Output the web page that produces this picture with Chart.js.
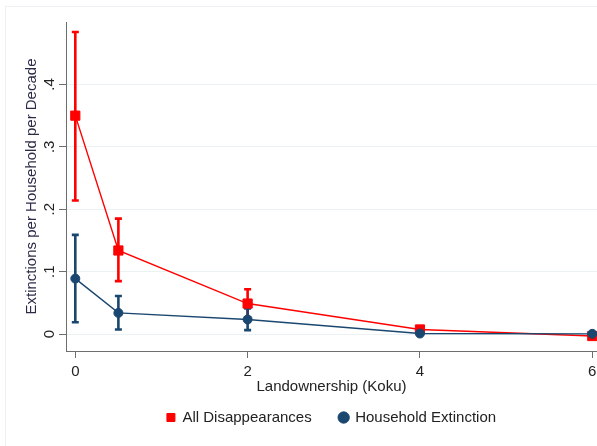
<!DOCTYPE html>
<html>
<head>
<meta charset="utf-8">
<script src="https://cdn.jsdelivr.net/npm/chart.js@4"></script>
<style>
  html, body { margin: 0; padding: 0; background: #fff; }
  #wrap { width: 597px; height: 446px; }
</style>
</head>
<body>
<div id="wrap"><canvas id="koku" width="597" height="446"></canvas></div>
<script>
// landownership in koku
const landKoku = [0, 0.5, 2, 4, 6];

// all disappearances, with CI
const allDisp = [0.350, 0.134, 0.049, 0.0075, -0.003];
const allDispLo = [0.214, 0.085, 0.027, 0.003, -0.007];
const allDispHi = [0.484, 0.185, 0.072, 0.012, 0.001];

// household extinction, with CI
const hhExt = [0.089, 0.034, 0.0235, 0.001, 0.0005];
const hhExtLo = [0.019, 0.0075, 0.0065, -0.001, -0.002];
const hhExtHi = [0.159, 0.061, 0.041, 0.003, 0.003];

const xTicks = [0, 2, 4, 6];
const yTicks = [0, 0.1, 0.2, 0.3, 0.4];

const RED = '#ff0000';
const NAVY = '#1a476f';
const AXIS = '#6e6e6e';
const FONT = 'Liberation Sans, Arial';

const toPts = (ys) => landKoku.map((x, i) => ({ x: x, y: ys[i] }));

// draws the CI whiskers under the markers
const errorBars = {
  id: 'errorBars',
  beforeDatasetsDraw(chart) {
    const { ctx, chartArea, scales: { x, y } } = chart;
    const sets = [
      { lo: allDispLo, hi: allDispHi, color: RED },
      { lo: hhExtLo, hi: hhExtHi, color: NAVY }
    ];
    ctx.save();
    ctx.beginPath();
    ctx.rect(chartArea.left, chartArea.top, chartArea.right - chartArea.left, chartArea.bottom - chartArea.top);
    ctx.clip();
    sets.forEach(s => {
      ctx.strokeStyle = s.color;
      ctx.lineWidth = 2.6;
      landKoku.forEach((v, i) => {
        const px = x.getPixelForValue(v);
        const top = y.getPixelForValue(s.hi[i]);
        const bot = y.getPixelForValue(s.lo[i]);
        ctx.beginPath();
        ctx.moveTo(px, top);
        ctx.lineTo(px, bot);
        ctx.moveTo(px - 3.5, top);
        ctx.lineTo(px + 3.5, top);
        ctx.moveTo(px - 3.5, bot);
        ctx.lineTo(px + 3.5, bot);
        ctx.stroke();
      });
    });
    ctx.restore();
  }
};

// faint outer frame, like the graph region border
const frame = {
  id: 'frame',
  beforeDraw(chart) {
    const ctx = chart.ctx;
    ctx.save();
    ctx.strokeStyle = '#eef1f3';
    ctx.lineWidth = 1;
    ctx.strokeRect(5.5, 6.5, 620, 500);
    ctx.restore();
  }
};

new Chart(document.getElementById('koku'), {
  type: 'scatter',
  data: {
    datasets: [
      {
        label: 'All Disappearances',
        data: toPts(allDisp),
        showLine: true,
        borderColor: RED,
        backgroundColor: RED,
        borderWidth: 1.4,
        pointStyle: 'rect',
        pointRadius: 6.5,
        pointBorderWidth: 1,
        pointBackgroundColor: RED,
        pointBorderColor: RED,
        order: 2
      },
      {
        label: 'Household Extinction',
        data: toPts(hhExt),
        showLine: true,
        borderColor: NAVY,
        backgroundColor: NAVY,
        borderWidth: 1.4,
        pointStyle: 'circle',
        pointRadius: 4.5,
        pointBorderWidth: 1,
        pointBackgroundColor: NAVY,
        pointBorderColor: NAVY,
        order: 1
      }
    ]
  },
  options: {
    responsive: false,
    animation: false,
    layout: { autoPadding: false, padding: { top: 22, left: 0, right: 0, bottom: 11 } },
    plugins: {
      tooltip: { enabled: false },
      legend: {
        position: 'bottom',
        fullSize: false,
        labels: {
          usePointStyle: true,
          boxWidth: 8,
          boxHeight: 8,
          padding: 28,
          color: '#222',
          sort: (a, b) => a.datasetIndex - b.datasetIndex,
          font: { family: FONT, size: 15 }
        }
      }
    },
    scales: {
      x: {
        type: 'linear',
        min: -0.108,
        max: 6.055,
        afterBuildTicks: (s) => { s.ticks = xTicks.map(v => ({ value: v })); },
        afterFit: (s) => { s.height = 31; },
        grid: { drawOnChartArea: false, tickLength: 7, tickColor: AXIS },
        border: { color: AXIS, width: 1 },
        ticks: {
          color: '#222',
          padding: 0,
          maxRotation: 0,
          font: { family: FONT, size: 15, lineHeight: 1.85 }
        },
        title: {
          display: true,
          text: 'Landownership (Koku)',
          color: '#222',
          padding: { top: 0, bottom: -14.2 },
          font: { family: FONT, size: 15 }
        }
      },
      y: {
        type: 'linear',
        min: -0.027,
        max: 0.5,
        afterBuildTicks: (s) => { s.ticks = yTicks.map(v => ({ value: v })); },
        afterFit: (s) => { s.width = 66; },
        grid: { color: '#eaf2f3', lineWidth: 1, tickLength: 7, tickColor: AXIS },
        border: { color: AXIS, width: 1 },
        ticks: {
          color: '#222',
          padding: 3,
          minRotation: 90,
          maxRotation: 90,
          crossAlign: 'center',
          font: { family: FONT, size: 15 },
          callback: (v) => v === 0 ? '0' : String(Math.round(v * 10) / 10).replace(/^0/, '')
        },
        title: {
          display: true,
          text: 'Extinctions per Household per Decade',
          color: '#2b2b48',
          padding: { top: 23, bottom: 0 },
          font: { family: FONT, size: 15 }
        }
      }
    }
  },
  plugins: [frame, errorBars]
});
</script>
</body>
</html>
